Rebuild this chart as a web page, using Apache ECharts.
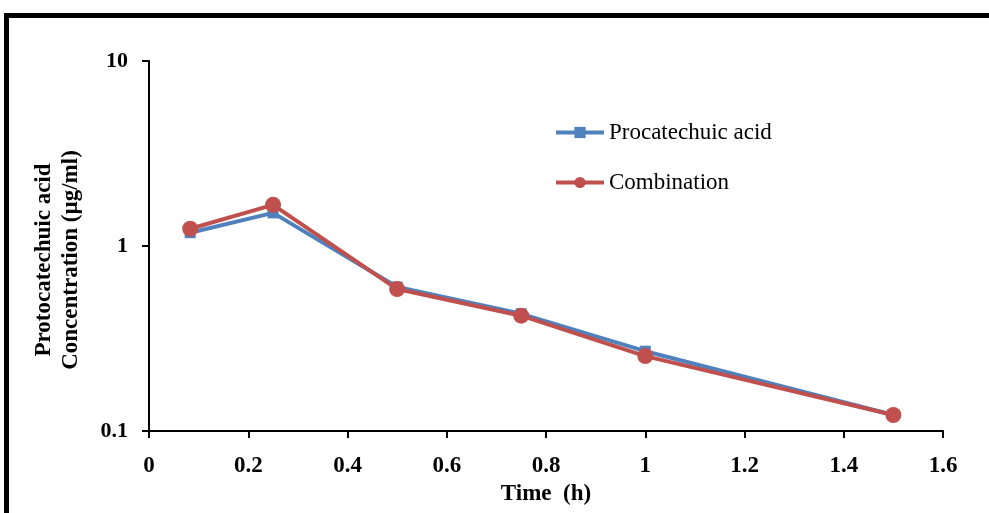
<!DOCTYPE html>
<html><head><meta charset="utf-8">
<script src="https://cdn.jsdelivr.net/npm/echarts@6/dist/echarts.min.js"></script>
<style>html,body{margin:0;padding:0;background:#fff}#c{width:989px;height:513px}</style>
</head><body><div id="c"></div>
<script>
var times = [0.083, 0.25, 0.5, 0.75, 1.0, 1.5];
var procatechuic = [1.18, 1.51, 0.60, 0.43, 0.27, 0.122];
var combination = [1.24, 1.67, 0.585, 0.42, 0.254, 0.122];
var seriesNames = ['Procatechuic acid', 'Combination'];
var xTicks = [0, 0.2, 0.4, 0.6, 0.8, 1, 1.2, 1.4, 1.6];

function pairs(xs, ys){ return xs.map(function(x,i){ return [x, ys[i]]; }); }
var font = '"Liberation Serif", "Times New Roman", serif';
var chart = echarts.init(document.getElementById('c'));
chart.setOption({
  animation: false,
  backgroundColor: '#fff',
  textStyle: {fontFamily: font},
  grid: {left: 149, right: 46, top: 61, bottom: 82},
  legend: {
    orient: 'vertical', left: 549, top: 116, itemGap: 27,
    itemWidth: 48, itemHeight: 14,
    lineStyle: {width: 4},
    textStyle: {fontFamily: font, fontSize: 23, color: '#000'},
    data: seriesNames
  },
  xAxis: {
    type: 'value', min: 0, max: 1.6, interval: 0.2,
    name: 'Time  (h)', nameLocation: 'middle', nameGap: 50,
    nameTextStyle: {fontFamily: font, fontSize: 23, fontWeight: 'bold', color: '#000'},
    axisLine: {show: true, lineStyle: {color: '#000', width: 2}},
    axisTick: {show: true, length: 7, lineStyle: {color: '#000', width: 2}},
    axisLabel: {fontFamily: font, fontSize: 23, fontWeight: 'bold', color: '#000', margin: 24,
      formatter: function(v){ return String(Math.round(v*10)/10); }},
    splitLine: {show: false}
  },
  yAxis: {
    type: 'log', logBase: 10, min: 0.1, max: 10,
    name: 'Protocatechuic acid\nConcentration (µg/ml)', nameLocation: 'middle', nameGap: 64,
    nameTextStyle: {fontFamily: font, fontSize: 23, fontWeight: 'bold', color: '#000', lineHeight: 27, padding: [0, 28, 0, 0]},
    axisLine: {show: true, lineStyle: {color: '#000', width: 2}},
    axisTick: {show: true, length: 7, lineStyle: {color: '#000', width: 2}},
    minorTick: {show: false},
    axisLabel: {fontFamily: font, fontSize: 22, fontWeight: 'bold', color: '#000', margin: 21,
      formatter: function(v){ return String(v); }},
    splitLine: {show: false}
  },
  graphic: [
    {type: 'line', shape: {x1: 4, y1: 15.5, x2: 989, y2: 15.5}, style: {stroke: '#000', lineWidth: 5}},
    {type: 'line', shape: {x1: 6.5, y1: 13, x2: 6.5, y2: 513}, style: {stroke: '#000', lineWidth: 5}}
  ],
  series: [
    {name: seriesNames[0], type: 'line', data: pairs(times, procatechuic),
     symbol: 'rect', symbolSize: 11, color: '#4F81BD',
     lineStyle: {width: 4, color: '#4F81BD'}, itemStyle: {color: '#4F81BD'}},
    {name: seriesNames[1], type: 'line', data: pairs(times, combination),
     symbol: 'circle', symbolSize: 16, color: '#C0504D',
     lineStyle: {width: 4, color: '#C0504D'}, itemStyle: {color: '#C0504D'}}
  ]
});
</script></body></html>
